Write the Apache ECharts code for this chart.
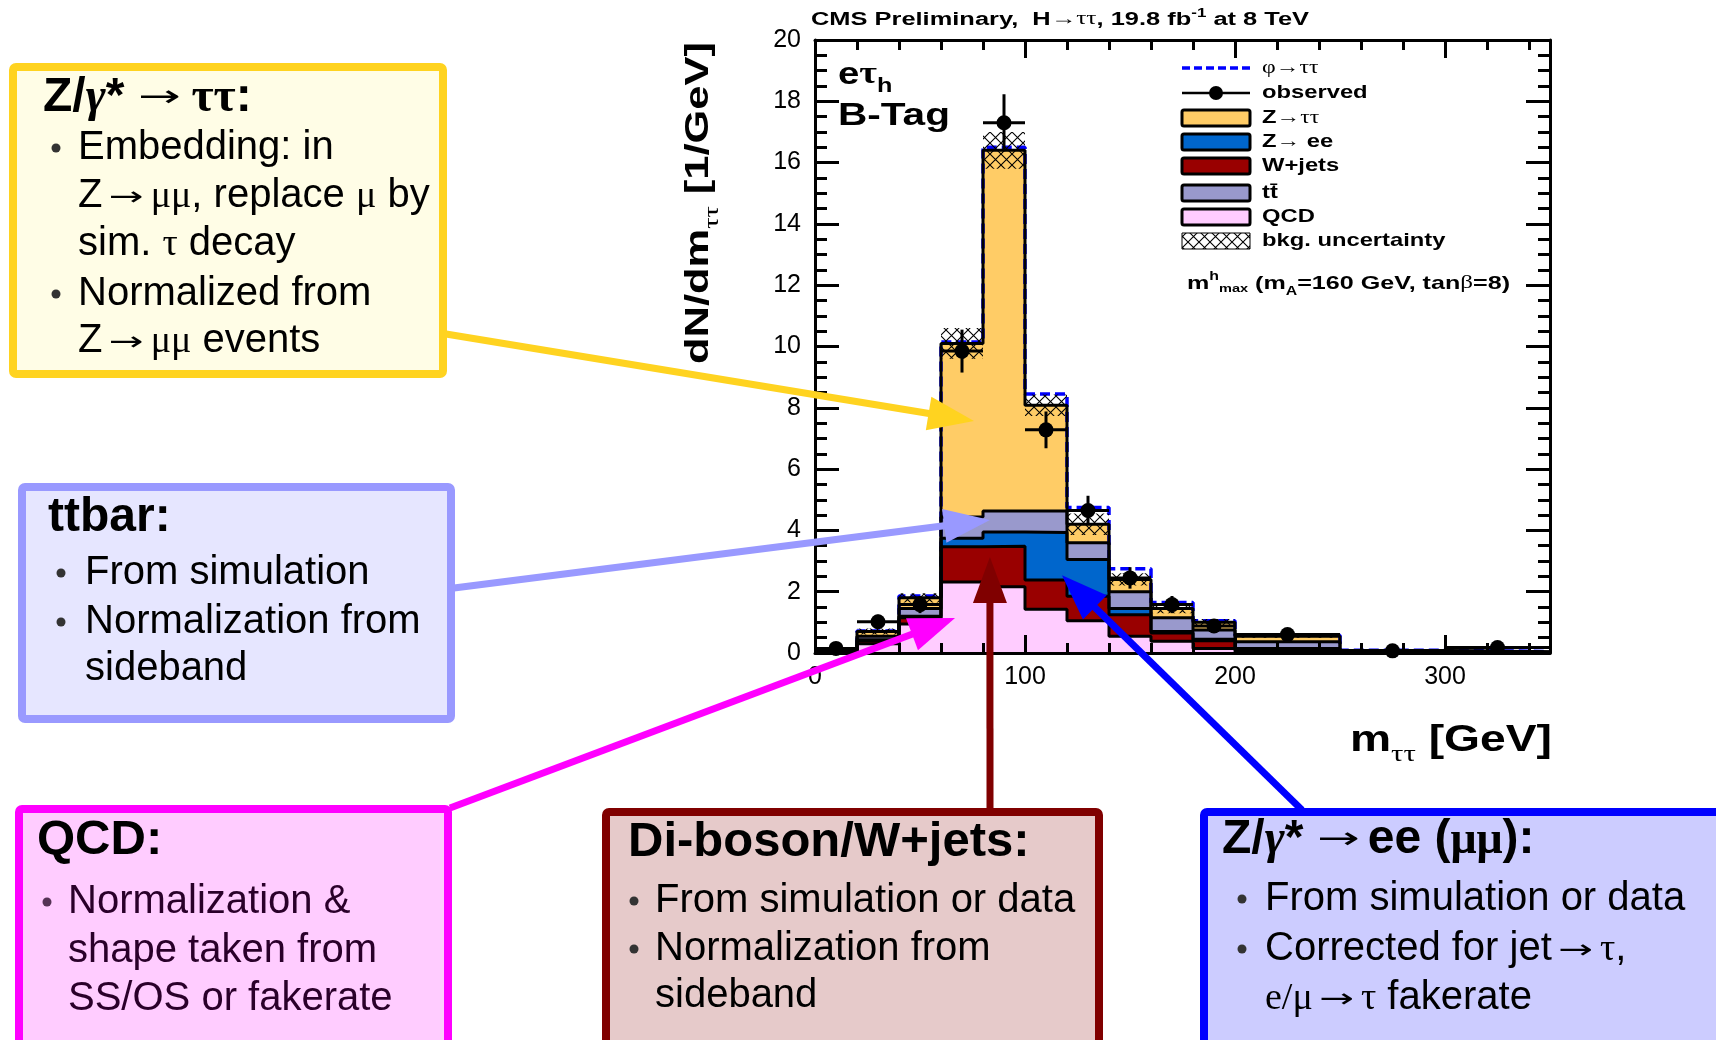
<!DOCTYPE html>
<html><head><meta charset="utf-8">
<script src="https://cdn.jsdelivr.net/npm/echarts@6/dist/echarts.min.js"></script>
<style>html,body{margin:0;padding:0;background:#fff;}#c{width:1716px;height:1040px;}</style>
</head><body><div id="c"></div>
<script>
// ---------------- data ----------------
const binEdges   = [0, 20, 40, 60, 80, 100, 120, 140, 160, 180, 200, 250, 300, 350];
const qcd        = [0.04, 0.30, 0.95, 2.32, 2.16, 1.43, 1.05, 0.55, 0.38, 0.15, 0.05, 0.02, 0.01];
const wjets      = [0.01, 0.10, 0.20, 1.15, 1.32, 0.95, 0.80, 0.70, 0.27, 0.25, 0.08, 0.02, 0.01];
const zee        = [0.00, 0.03, 0.05, 0.27, 0.47, 1.55, 1.20, 0.20, 0.05, 0.05, 0.02, 0.01, 0.00];
const ttbar      = [0.01, 0.12, 0.25, 0.70, 0.68, 0.70, 0.55, 0.55, 0.45, 0.30, 0.22, 0.02, 0.01];
const ztt        = [0.01, 0.15, 0.35, 5.66, 11.77, 3.45, 0.60, 0.40, 0.30, 0.25, 0.18, 0.01, 0.01];
const bkgUnc     = [0.03, 0.10, 0.15, 0.50, 0.60, 0.35, 0.35, 0.20, 0.15, 0.11, 0.05, 0.02, 0.01];
const phiTotal   = [0.08, 0.72, 1.86, 10.15, 16.50, 8.45, 4.75, 2.75, 1.65, 1.05, 0.58, 0.09, 0.05];
const observed   = [0.15, 1.02, 1.58, 9.85, 17.30, 7.28, 4.65, 2.45, 1.58, 0.88, 0.60, 0.07, 0.18];
const observedErr= [0.09, 0.23, 0.28, 0.70, 0.93, 0.60, 0.48, 0.35, 0.28, 0.21, 0.11, 0.04, 0.06];
const xRange = [0, 350], xMajor = 100, xMinor = 20;
const yRange = [0, 20], yMajor = 2;
// annotation arrow tips, in data coordinates (m_tautau, dN/dm)
const tipZtt = [75.7, 7.57], tipTT = [83.3, 4.34], tipQCD = [66.7, 1.14], tipW = [83.3, 3.13], tipZee = [117.6, 2.54];

// ---------------- helpers ----------------
const SANS = 'Liberation Sans', SERIF = 'Liberation Serif', DJ = 'DejaVu Sans';
const mctx = document.createElement('canvas').getContext('2d');
function F(size, weight, fam) { return (weight || 'normal') + ' ' + size + 'px "' + fam + '"'; }
function tw(font, t) { mctx.font = font; return mctx.measureText(t).width; }
function run(x, baseline, parts, o) {
  o = o || {};
  const z = o.z || 100;
  let cx = 0; const kids = [];
  parts.forEach(p => {
    const t = p[0], size = p[1], weight = p[2], fam = p[3] || SANS, dy = p[4] || 0, fill = p[5], psx = p[6] || 1;
    const font = F(size, weight, fam);
    kids.push({ type: 'text', x: cx, y: dy - 0.35 * size, z: z, scaleX: psx,
      style: { text: t, font: font, fill: fill || o.fill || '#000', verticalAlign: 'middle', align: 'left' } });
    cx += tw(font, t) * psx;
  });
  let sx = o.sx || 1;
  if (o.width) sx = o.width / cx;
  return { type: 'group', x: x, y: baseline, rotation: o.rot || 0, scaleX: sx, scaleY: o.sy || 1, children: kids, z: z, silent: true };
}

const hatch = document.createElement('canvas'); hatch.width = 11; hatch.height = 11;
(function () { const g = hatch.getContext('2d'); g.strokeStyle = '#000'; g.lineWidth = 1.1;
  g.beginPath(); g.moveTo(0, 0); g.lineTo(11, 11); g.moveTo(11, 0); g.lineTo(0, 11); g.stroke(); })();

const n = binEdges.length - 1;
const layers = [
  { name: 'QCD', vals: qcd, color: '#FFCCFF' },
  { name: 'W+jets', vals: wjets, color: '#990000' },
  { name: 'Z→ee', vals: zee, color: '#0066CC' },
  { name: 'ttbar', vals: ttbar, color: '#9999CC' },
  { name: 'Z→ττ', vals: ztt, color: '#FFCC66' }
];
function stepData(vals) { return binEdges.map((e, i) => [e, vals[Math.min(i, n - 1)]]); }

const series = [];
// signal on top of the background, drawn first so the stack outlines cover it
series.push({ type: 'line', name: 'φ→ττ', step: 'end', symbol: 'none', z: 2, data: stepData(phiTotal),
  lineStyle: { color: '#0000FF', width: 3.5, type: [10, 5] } });
// cumulative stack, drawn from the total down (ROOT THStack style outlines)
const cum = new Array(n).fill(0);
const cumLayers = layers.map(L => { const top = L.vals.map((v, i) => (cum[i] += v)); return { L: L, top: top.slice() }; });
cumLayers.slice().reverse().forEach(c => {
  series.push({ type: 'line', name: c.L.name, step: 'end', symbol: 'none', z: 2, data: stepData(c.top),
    lineStyle: { color: '#000', width: 3 }, areaStyle: { color: c.L.color, opacity: 1, origin: 'start' } });
});
series.push({ type: 'custom', name: 'bkg. uncertainty', z: 3, encode: { x: [0, 1], y: [2, 3] },
  data: cum.map((t, i) => [binEdges[i], binEdges[i + 1], t - bkgUnc[i], t + bkgUnc[i]]),
  renderItem: function (params, api) {
    const a = api.coord([api.value(0), api.value(3)]);
    const b = api.coord([api.value(1), api.value(2)]);
    return { type: 'rect', shape: { x: a[0], y: a[1], width: b[0] - a[0], height: b[1] - a[1] },
      style: { fill: { image: hatch, repeat: 'repeat' } } };
  } });
series.push({ type: 'custom', name: 'observed', z: 5, encode: { x: [0, 1], y: 2 },
  data: observed.map((v, i) => [binEdges[i], binEdges[i + 1], v, observedErr[i]]),
  renderItem: function (params, api) {
    const x0 = api.value(0), x1 = api.value(1), v = api.value(2), e = api.value(3), c = (x0 + x1) / 2;
    const pl = api.coord([x0, v]), pr = api.coord([x1, v]);
    const pt = api.coord([c, v + e]), pb = api.coord([c, Math.max(0, v - e)]);
    return { type: 'group', children: [
      { type: 'line', shape: { x1: pl[0], y1: pl[1], x2: pr[0], y2: pr[1] }, style: { stroke: '#000', lineWidth: 3 } },
      { type: 'line', shape: { x1: pt[0], y1: pt[1], x2: pb[0], y2: pb[1] }, style: { stroke: '#000', lineWidth: 3 } },
      { type: 'circle', shape: { cx: pl[0] / 2 + pr[0] / 2, cy: pl[1], r: 7.5 }, style: { fill: '#000' } }
    ] };
  } });

const blk = { color: '#000', width: 3 };
function xAx(pos, step, len, main) {
  return { type: 'value', position: pos, min: xRange[0], max: xRange[1], interval: step, z: 10,
    axisLine: { show: main, onZero: false, lineStyle: blk },
    axisTick: { show: true, inside: true, length: len, lineStyle: blk },
    axisLabel: { show: main && pos === 'bottom', showMaxLabel: false, color: '#000', fontFamily: SANS, fontSize: 25, margin: 12 },
    splitLine: { show: false } };
}
function yAx(pos) {
  return { type: 'value', position: pos, min: yRange[0], max: yRange[1], interval: yMajor, z: 10,
    axisLine: { show: true, onZero: false, lineStyle: blk },
    axisTick: { show: true, inside: true, length: 24, lineStyle: blk },
    minorTick: { show: true, splitNumber: 4, length: 12, lineStyle: blk },
    axisLabel: { show: pos === 'left', color: '#000', fontFamily: SANS, fontSize: 25, margin: 14 },
    splitLine: { show: false } };
}

const chart = echarts.init(document.getElementById('c'), null, { renderer: 'canvas' });
chart.setOption({
  animation: false,
  backgroundColor: '#fff',
  grid: { left: 815, top: 40, width: 735, height: 613, containLabel: false },
  xAxis: [xAx('bottom', xMajor, 18, true), xAx('bottom', xMinor, 10, false), xAx('top', xMajor, 18, true), xAx('top', xMinor, 10, false)],
  yAxis: [yAx('left'), yAx('right')],
  series: series
});

// ---------------- annotations ----------------
const G = [];
function box(x0, y0, x1, y1, stroke, fill) {
  G.push({ type: 'rect', shape: { x: x0 + 4, y: y0 + 4, width: x1 - x0 - 8, height: y1 - y0 - 8, r: 3 },
    style: { fill: fill, stroke: stroke, lineWidth: 8 }, z: 20, silent: true });
}
function bullet(x, baseline, col) {
  G.push({ type: 'circle', shape: { cx: x, cy: baseline - 14, r: 4.5 }, style: { fill: col || '#333' }, z: 100, silent: true });
}
function arrow(x0, y0, tip, color) {
  const p = chart.convertToPixel({ gridIndex: 0 }, tip);
  const x1 = p[0], y1 = p[1];
  const dx = x1 - x0, dy = y1 - y0, L = Math.hypot(dx, dy), ux = dx / L, uy = dy / L;
  const hl = 46, hw = 34, bx = x1 - ux * hl, by = y1 - uy * hl, px = -uy, py = ux;
  G.push({ type: 'line', shape: { x1: x0, y1: y0, x2: bx + ux * 2, y2: by + uy * 2 }, style: { stroke: color, lineWidth: 7 }, z: 60, silent: true });
  G.push({ type: 'polygon', shape: { points: [[x1, y1], [bx + px * hw / 2, by + py * hw / 2], [bx - px * hw / 2, by - py * hw / 2]] },
    style: { fill: color }, z: 60, silent: true });
}
const SP = [' ', 40];
const AR = ['\u2192', 26, 'normal', DJ, -3, null, 1.6];     // thin arrow in body text
const ART = ['\u2192', 30, 'normal', DJ, -6, null, 1.7];    // arrow in titles

// boxes
box(9, 63, 447, 378, '#FFD320', '#FFFDE6');
box(18, 483, 455, 723, '#9999FF', '#E6E6FF');
box(15, 805, 452, 1060, '#FF00FF', '#FFCCFF');
box(602, 808, 1103, 1060, '#800000', '#E6CACA');
box(1200, 808, 1740, 1060, '#0000FF', '#CCCCFF');

// yellow box text
G.push(run(43, 115, [['Z/', 48, 'bold'], ['γ', 48, 'bold italic', SERIF], ['* ', 48, 'bold'], ART, [' ', 40], ['ττ', 48, 'bold', SERIF], [':', 48, 'bold']]));
bullet(56, 162); G.push(run(78, 162, [['Embedding: in', 40]]));
G.push(run(78, 210, [['Z', 40], [' ', 24], AR, [' ', 24], ['μμ', 38, 'normal', SERIF], [', replace ', 40], ['μ', 38, 'normal', SERIF], [' by', 40]]));
G.push(run(78, 258, [['sim. ', 40], ['τ', 38, 'normal', SERIF], [' decay', 40]]));
bullet(56, 308); G.push(run(78, 308, [['Normalized from', 40]]));
G.push(run(78, 355, [['Z', 40], [' ', 24], AR, [' ', 24], ['μμ', 38, 'normal', SERIF], [' events', 40]]));

// ttbar box text
G.push(run(48, 535, [['ttbar:', 48, 'bold']]));
bullet(61, 587); G.push(run(85, 587, [['From simulation', 40]]));
bullet(61, 636); G.push(run(85, 636, [['Normalization from', 40]]));
G.push(run(85, 683, [['sideband', 40]]));

// QCD box text
const qc = '#2A002A';
G.push(run(37, 858, [['QCD:', 49, 'bold']], { fill: '#000' }));
bullet(47, 916, '#553355'); G.push(run(68, 916, [['Normalization &', 40]], { fill: qc }));
G.push(run(68, 965, [['shape taken from', 40]], { fill: qc }));
G.push(run(68, 1013, [['SS/OS or fakerate', 40]], { fill: qc }));

// Di-boson box text
G.push(run(628, 860, [['Di-boson/W+jets:', 49, 'bold']]));
bullet(634, 915); G.push(run(655, 915, [['From simulation or data', 40]]));
bullet(634, 963); G.push(run(655, 963, [['Normalization from', 40]]));
G.push(run(655, 1010, [['sideband', 40]]));

// Z->ee box text
G.push(run(1222, 857, [['Z/', 48, 'bold'], ['γ', 48, 'bold italic', SERIF], ['* ', 48, 'bold'], ART, [' ', 30], ['ee ', 48, 'bold'], ['(', 48, 'bold'], ['μμ', 46, 'bold', SERIF], ['):', 48, 'bold']]));
bullet(1242, 913); G.push(run(1265, 913, [['From simulation or data', 40]]));
bullet(1242, 963); G.push(run(1265, 963, [['Corrected for jet', 40], [' ', 24], AR, [' ', 24], ['τ', 38, 'normal', SERIF], [',', 40]]));
G.push(run(1265, 1012, [['e/μ', 38, 'normal', SERIF], [' ', 24], AR, [' ', 24], ['τ', 38, 'normal', SERIF], [' fakerate', 40]]));

// arrows (start at box edges, tips at data positions)
arrow(446, 334, tipZtt, '#FFD320');
arrow(454, 588, tipTT, '#9999FF');
arrow(450, 808, tipQCD, '#FF00FF');
arrow(990, 810, tipW, '#800000');
arrow(1302, 810, tipZee, '#0000FF');

// plot texts
G.push(run(811, 26, [['CMS Preliminary,  H', 18, 'bold'], ['→ττ', 18, 'normal', SERIF], [', 19.8 fb', 18, 'bold'], ['-1', 12, 'bold', SANS, -8], [' at 8 TeV', 18, 'bold']], { width: 498 }));
G.push(run(838, 86, [['e', 32, 'bold'], ['τ', 32, 'bold', SERIF], ['h', 21, 'bold', SANS, 8]], { sx: 1.2 }));
G.push(run(838, 127, [['B-Tag', 32, 'bold']], { width: 112 }));
G.push(run(711, 364, [['dN/dm', 34, 'bold'], ['ττ', 22, 'normal', SERIF, 9], [' [1/GeV]', 34, 'bold']], { rot: Math.PI / 2, width: 322 }));
G.push(run(1350, 754, [['m', 36, 'bold'], ['ττ', 24, 'normal', SERIF, 9], [' [GeV]', 36, 'bold']], { width: 202 }));

// legend
const lgX = 1182, lgW = 68, lgT = 1262;
const rows = [68, 93, 118, 142, 166, 193, 217, 241];
G.push({ type: 'line', shape: { x1: lgX, y1: rows[0], x2: lgX + lgW, y2: rows[0] }, style: { stroke: '#0000FF', lineWidth: 3.5, lineDash: [8, 4] }, z: 100 });
G.push({ type: 'line', shape: { x1: lgX, y1: rows[1], x2: lgX + lgW, y2: rows[1] }, style: { stroke: '#000', lineWidth: 2.5 }, z: 100 });
G.push({ type: 'circle', shape: { cx: lgX + lgW / 2, cy: rows[1], r: 7 }, style: { fill: '#000' }, z: 100 });
const lgFill = ['#FFCC66', '#0066CC', '#990000', '#9999CC', '#FFCCFF'];
lgFill.forEach((c, i) => G.push({ type: 'rect', shape: { x: lgX, y: rows[2 + i] - 8, width: lgW, height: 16, r: 2 },
  style: { fill: c, stroke: '#000', lineWidth: 3 }, z: 100 }));
G.push({ type: 'rect', shape: { x: lgX, y: rows[7] - 8, width: lgW, height: 16 }, style: { fill: { image: hatch, repeat: 'repeat' }, stroke: '#000', lineWidth: 1 }, z: 100 });
const ls = 19, lsx = 1.25;
function lgText(i, parts) { G.push(run(lgT, rows[i] + 0.35 * ls, parts, { sx: lsx })); }
lgText(0, [['φ→ττ', 19, 'normal', SERIF]]);
lgText(1, [['observed', ls, 'bold']]);
lgText(2, [['Z', ls, 'bold'], ['→ττ', 19, 'normal', SERIF]]);
lgText(3, [['Z', ls, 'bold'], ['→', 19, 'normal', SERIF], [' ee', ls, 'bold']]);
lgText(4, [['W+jets', ls, 'bold']]);
lgText(5, [['tt\u0304', ls, 'bold']]);
lgText(6, [['QCD', ls, 'bold']]);
lgText(7, [['bkg. uncertainty', ls, 'bold']]);
G.push(run(1187, 290, [['m', 19, 'bold'], ['h', 12, 'bold', SANS, -9], ['max', 11, 'bold', SANS, 3], [' (m', 19, 'bold'], ['A', 12, 'bold', SANS, 6], ['=160 GeV, tan', 19, 'bold'], ['β', 19, 'normal', SERIF], ['=8)', 19, 'bold']], { width: 323 }));

chart.setOption({ graphic: G });
</script></body></html>
